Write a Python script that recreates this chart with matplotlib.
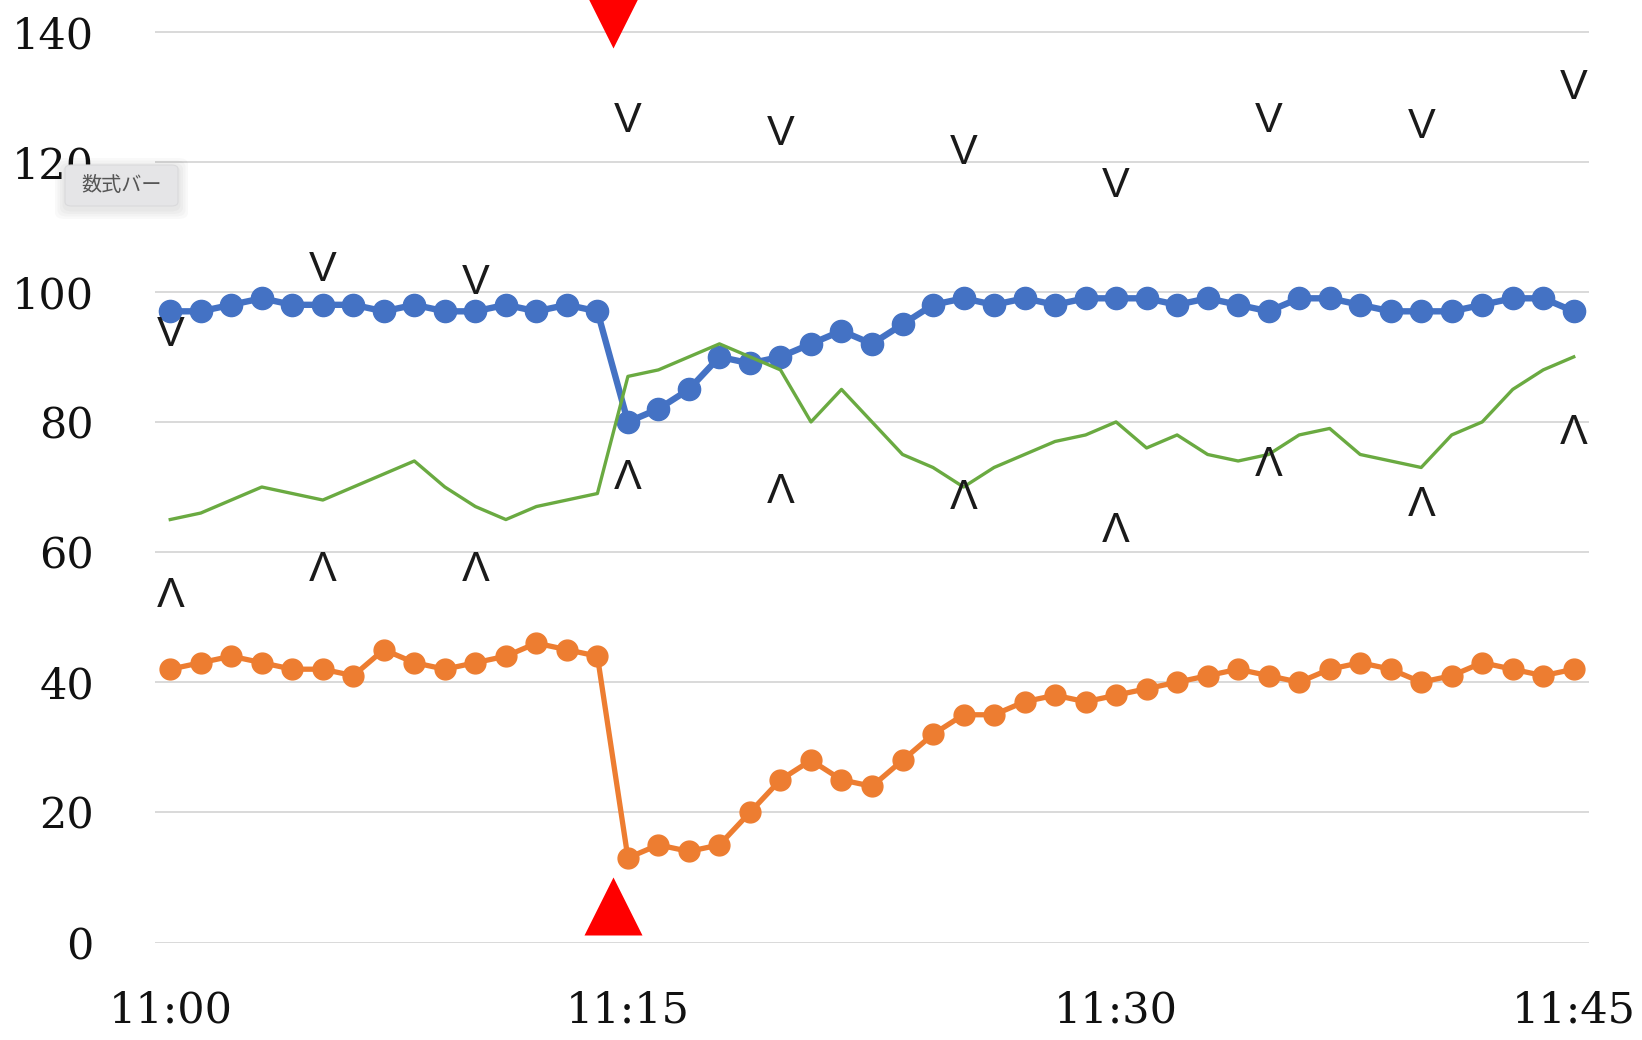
import matplotlib
matplotlib.use("Agg")
import matplotlib.pyplot as plt
from matplotlib.patches import FancyBboxPatch

# Samples, one per row of the sheet (47 rows from 11:00 to 11:45)
blue_values = [97, 97, 98, 99, 98, 98, 98, 97, 98, 97, 97, 98, 97, 98, 97,
               80, 82, 85, 90, 89, 90, 92, 94, 92, 95, 98, 99, 98, 99, 98,
               99, 99, 99, 98, 99, 98, 97, 99, 99, 98, 97, 97, 97, 98, 99,
               99, 97]
orange_values = [42, 43, 44, 43, 42, 42, 41, 45, 43, 42, 43, 44, 46, 45, 44,
                 13, 15, 14, 15, 20, 25, 28, 25, 24, 28, 32, 35, 35, 37, 38,
                 37, 38, 39, 40, 41, 42, 41, 40, 42, 43, 42, 40, 41, 43, 42,
                 41, 42]
green_values = [65, 66, 68, 70, 69, 68, 70, 72, 74, 70, 67, 65, 67, 68, 69,
                87, 88, 90, 92, 90, 88, 80, 85, 80, 75, 73, 70, 73, 75, 77,
                78, 80, 76, 78, 75, 74, 75, 78, 79, 75, 74, 73, 78, 80, 85,
                88, 90]

# Cuff readings (row index, upper and lower value)
cuff_rows = [0, 5, 10, 15, 20, 26, 31, 36, 41, 46]
cuff_upper = [94, 104, 102, 127, 125, 122, 117, 127, 126, 132]
cuff_lower = [54, 58, 58, 72, 70, 69, 64, 74, 68, 79]

# Event between 11:14 and 11:15
event_row = 14.5
event_low = 5.6
event_high = 142.0

tick_rows = [0, 15, 31, 46]
tick_labels = ["11:00", "11:15", "11:30", "11:45"]
y_ticks = [0, 20, 40, 60, 80, 100, 120, 140]

BLUE = "#4472C4"
ORANGE = "#ED7D31"
GREEN = "#6AAA41"
RED = "#FF0000"

fig = plt.figure(figsize=(16.42, 10.40), dpi=100)
ax = fig.add_axes([155 / 1642, 97.5 / 1040, 1434 / 1642, 942.5 / 1040])

rows = list(range(len(blue_values)))

ax.plot(rows, blue_values, color=BLUE, lw=4.6, marker="o", ms=16,
        solid_joinstyle="round", zorder=3)
ax.plot(rows, orange_values, color=ORANGE, lw=3.8, marker="o", ms=15,
        solid_joinstyle="round", zorder=3)
ax.plot(rows, green_values, color=GREEN, lw=2.4, zorder=4)

for r, hi, lo in zip(cuff_rows, cuff_upper, cuff_lower):
    ax.text(r, hi, "V", ha="center", va="center_baseline", fontsize=30,
            family=["Liberation Sans", "DejaVu Sans"], color="#1a1a1a", zorder=5)
    ax.text(r, lo, "Λ", ha="center", va="center_baseline", fontsize=30,
            family=["Liberation Sans", "DejaVu Sans"], color="#1a1a1a", zorder=5)

ax.plot([event_row], [event_low], marker="^", ms=42, color=RED, mec="none",
        clip_on=False, zorder=6)
ax.plot([event_row], [event_high], marker="v", ms=42, color=RED, mec="none",
        clip_on=False, zorder=6)

ax.set_xlim(-0.5, 46.5)
ax.set_ylim(0, 942.5 / 6.507)
ax.set_yticks(y_ticks)
ax.set_xticks(tick_rows)
ax.set_xticklabels(tick_labels)
ax.grid(axis="y", color="#d9d9d9", lw=1.4, zorder=0)
ax.set_axisbelow(True)
for s in ax.spines.values():
    s.set_visible(False)
ax.tick_params(axis="both", length=0, labelsize=31, colors="#111111")
ax.tick_params(axis="x", pad=34)
ax.tick_params(axis="y", pad=44)
for lab in ax.get_xticklabels() + ax.get_yticklabels():
    lab.set_family("DejaVu Serif")

# Floating "数式バー" button with a soft shadow
bx0, by0, bw, bh = 65 / 1642, 1 - 206 / 1040, 113 / 1642, 41 / 1040
for i in range(4):
    g = (i + 1) * 2.5
    fig.patches.append(FancyBboxPatch(
        (bx0 - g / 1642, by0 - (g + 3) / 1040), bw + 2 * g / 1642, bh + 2 * g / 1040,
        boxstyle="round,pad=0,rounding_size=0.006", transform=fig.transFigure,
        facecolor="#000000", edgecolor="none", alpha=0.025, zorder=8))
fig.patches.append(FancyBboxPatch(
    (bx0, by0), bw, bh, boxstyle="round,pad=0,rounding_size=0.004",
    transform=fig.transFigure, facecolor="#e5e5e7", edgecolor="#dadadc",
    lw=0.8, zorder=9))
fig.text(bx0 + bw / 2, by0 + bh / 2, "数式バー", ha="center", va="center",
         fontsize=14.5, color="#555555",
         family=["Noto Sans CJK JP", "DejaVu Sans"], zorder=10)

fig.savefig("out.png", dpi=100)
